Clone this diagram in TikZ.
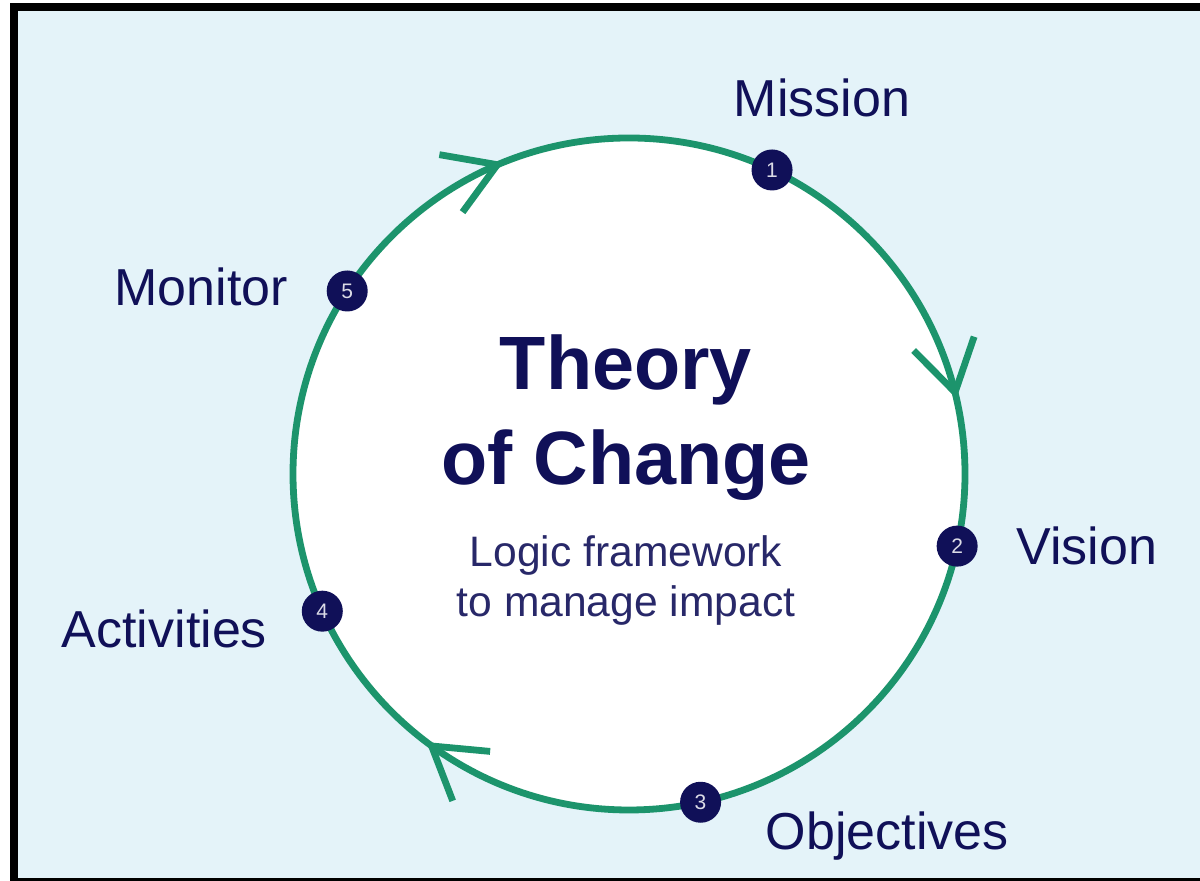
\documentclass[tikz,border=0pt]{standalone}
\usepackage{fontspec}
\setmainfont{Liberation Sans}
\usepackage{xcolor}
\usepackage{tikz}
\usetikzlibrary{positioning,arrows.meta,calc,decorations.markings}

\definecolor{tocnavy}{RGB}{16,16,88}
\definecolor{tocgreen}{RGB}{28,148,108}
\definecolor{tocsky}{RGB}{228,243,249}

\begin{document}
\begin{tikzpicture}[
  x=0.5pt, y=0.5pt,
  numdot/.style={circle, fill=tocnavy, minimum size=20.5pt, inner sep=0pt, text=white!85!tocnavy, font=\fontsize{10.5}{10.5}\selectfont},
  lbl/.style={inner sep=0pt, text=tocnavy, font=\fontsize{26}{31}\selectfont},
  headline/.style={inner sep=0pt, align=center, text=tocnavy, font=\fontsize{37.8}{47.5}\selectfont\bfseries},
  subline/.style={inner sep=0pt, align=center, text=tocnavy!90!white, font=\fontsize{21.3}{25}\selectfont},
  ring/.style={color=tocgreen, line width=3.4pt, postaction={decorate},
    decoration={markings,
      mark=at position 0.214 with {\arrow[tocgreen]{Straight Barb[length=25pt, width=31pt]}},
      mark=at position 0.603 with {\arrow[tocgreen]{Straight Barb[length=25pt, width=31pt]}},
      mark=at position 0.939 with {\arrow[tocgreen]{Straight Barb[length=25pt, width=31pt]}}}},
]
\useasboundingbox (0,0) rectangle (1200,881);
% frame and background
\fill[white] (0,0) rectangle (1200,881);
\fill[black] (10,0) rectangle (1200,878);
\fill[tocsky] (18,3) rectangle (1200,870);

% the cycle
\coordinate (ctr) at (629,407);
\fill[white] (ctr) circle[radius=336];
\draw[ring] ([shift={(90:336)}]ctr) arc[start angle=90, end angle=-270, radius=336];

\node[numdot] (d1) at ($(ctr)+(64.8:336)$) {1};
\node[numdot] (d2) at ($(ctr)+(-12.4:336)$) {2};
\node[numdot] (d3) at ($(ctr)+(-77.7:336)$) {3};
\node[numdot] (d4) at ($(ctr)+(204.1:336)$) {4};
\node[numdot] (d5) at ($(ctr)+(147:336)$) {5};

\node[lbl, above=16pt of d1, xshift=25pt] (mission) {Mission};
\node[lbl, right=19pt of d2] (vision) {Vision};
\node[lbl, right=22pt of d3, yshift=-17pt] (objectives) {Objectives};
\node[lbl, left=17pt of d4, yshift=-9pt] (activities) {Activities};
\node[lbl, left=19pt of d5, yshift=2pt] (monitor) {Monitor};

% centre text
\node[headline] (toc) at ($(ctr)+(-3,56)$) {Theory\\of Change};
\node[subline, below=17pt of toc] (logic) {Logic framework\\to manage impact};
\end{tikzpicture}
\end{document}
